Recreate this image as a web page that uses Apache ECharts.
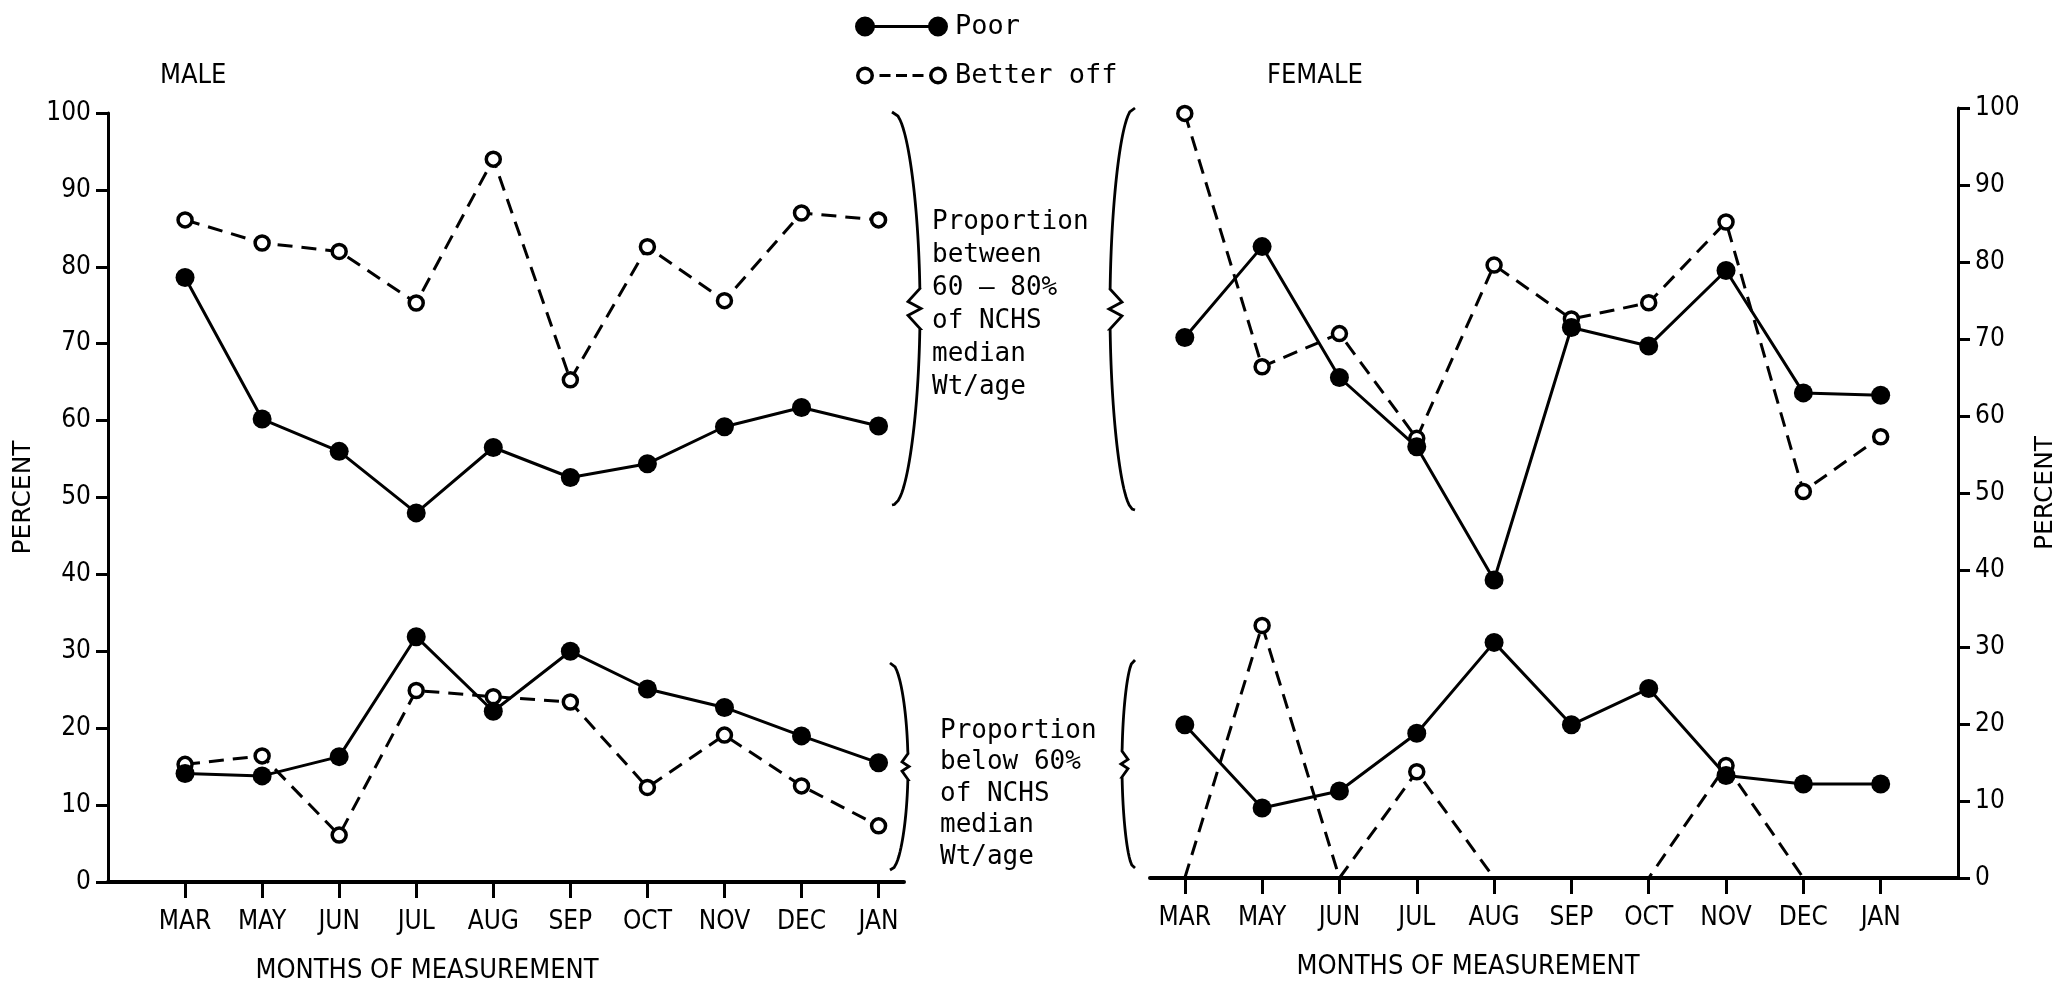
<!DOCTYPE html>
<html>
<head>
<meta charset="utf-8">
<title>Weight-for-age by month of measurement, male and female</title>
<script src="https://cdn.jsdelivr.net/npm/echarts@6/dist/echarts.min.js"></script>
<style>
html, body { margin: 0; padding: 0; background: #fff; }
#chart { width: 2058px; height: 982px; }
</style>
</head>
<body>
<div id="chart"></div>
<script>
// months of measurement (x positions are their index)
const months = ['MAR', 'MAY', 'JUN', 'JUL', 'AUG', 'SEP', 'OCT', 'NOV', 'DEC', 'JAN'];

// MALE - proportion between 60-80% of NCHS median wt/age
const malePoorMid = [78.6, 60.2, 56.0, 48.0, 56.5, 52.6, 54.4, 59.2, 61.7, 59.3];
const maleBetterMid = [86.1, 83.1, 82.0, 75.3, 94.0, 65.3, 82.6, 75.6, 87.0, 86.1];
// MALE - proportion below 60%
const malePoorLow = [14.1, 13.8, 16.3, 31.9, 22.2, 30.0, 25.1, 22.7, 19.0, 15.5];
const maleBetterLow = [15.3, 16.4, 6.1, 24.9, 24.1, 23.4, 12.3, 19.1, 12.5, 7.3];

// FEMALE - proportion between 60-80%
const femalePoorMid = [70.2, 82.0, 65.0, 56.0, 38.7, 71.5, 69.1, 78.9, 63.0, 62.7];
const femaleBetterMid = [99.3, 66.4, 70.7, 57.1, 79.6, 72.6, 74.7, 85.2, 50.2, 57.3];
// FEMALE - proportion below 60%
const femalePoorLow = [19.9, 9.1, 11.3, 18.8, 30.6, 19.9, 24.6, 13.3, 12.2, 12.2];
const femaleBetterLow = [0, 32.8, 0, 13.8, 0, 0, 0, 14.6, 0, 0];

const noteMid = ['Proportion', 'between', '60 – 80%', 'of NCHS', 'median', 'Wt/age'];
const noteLow = ['Proportion', 'below 60%', 'of NCHS', 'median', 'Wt/age'];

const narrow = '"Liberation Sans Narrow", "DejaVu Sans Condensed", "Roboto", sans-serif';
const mono = '"DejaVu Sans Mono", "Liberation Mono", monospace';
const monthIdx = months.map((m, i) => i);

// legend icons: dot-line-dot and ring-dash-ring, in a 93 x 20 box
const poorIcon = 'path://M0,10 A10,10 0 1,1 20,10 A10,10 0 1,1 0,10 Z ' +
  'M10,8.5 L83,8.5 L83,11.5 L10,11.5 Z ' +
  'M73,10 A10,10 0 1,1 93,10 A10,10 0 1,1 73,10 Z';
const ring = cx => `M${cx - 9},10 A9,9 0 1,1 ${cx + 9},10 A9,9 0 1,1 ${cx - 9},10 Z ` +
  `M${cx - 5.5},10 A5.5,5.5 0 1,0 ${cx + 5.5},10 A5.5,5.5 0 1,0 ${cx - 5.5},10 Z `;
const dash = (a, b) => `M${a},8.5 L${b},8.5 L${b},11.5 L${a},11.5 Z `;
const betterIcon = 'path://M0,0 M93,20 ' + ring(10) + dash(24.5, 35.5) + dash(41, 52) + dash(57.5, 68.5) + ring(83);

function pts(vals) {
  return vals.map((v, i) => v === 0 ? { value: [i, v], symbol: 'none' } : [i, v]);
}

function poor(data, g) {
  return {
    type: 'line', name: 'Poor', xAxisIndex: g, yAxisIndex: g, data: pts(data),
    symbol: 'circle', symbolSize: 19, z: 4, clip: false, silent: true,
    itemStyle: { color: '#000' },
    lineStyle: { color: '#000', width: 3 }
  };
}
function better(data, g) {
  return {
    type: 'line', name: 'Better off', xAxisIndex: g, yAxisIndex: g, data: pts(data),
    symbol: 'circle', symbolSize: 14, z: 3, clip: false, silent: true,
    itemStyle: { color: '#fff', borderColor: '#000', borderWidth: 3.5 },
    lineStyle: { color: '#000', width: 3, type: [15, 9] }
  };
}

function xAxis(g, min, max, shift) {
  return {
    type: 'value', gridIndex: g, min: min, max: max,
    name: 'MONTHS OF MEASUREMENT', nameLocation: 'middle', nameGap: 75,
    nameTextStyle: { fontFamily: narrow, fontSize: 27, color: '#000', padding: [0, shift, 0, 0] },
    axisLine: { onZero: false, lineStyle: { color: '#000', width: 4 } },
    axisTick: { show: true, customValues: monthIdx, length: 16, lineStyle: { color: '#000', width: 3 } },
    axisLabel: { customValues: monthIdx, formatter: v => months[v], margin: 27,
      fontFamily: narrow, fontSize: 26, color: '#000' },
    splitLine: { show: false }
  };
}
function yAxis(g, pos) {
  return {
    type: 'value', gridIndex: g, min: 0, max: 100, interval: 10, position: pos,
    name: 'PERCENT', nameLocation: 'middle', nameRotate: 90, nameGap: pos === 'left' ? 72 : 75,
    nameTextStyle: { fontFamily: '"DejaVu Sans", sans-serif', fontSize: 25, color: '#000' },
    axisLine: { show: true, onZero: false, lineStyle: { color: '#000', width: 3 } },
    axisTick: { show: true, length: 12, lineStyle: { color: '#000', width: 3 } },
    axisLabel: { margin: 17, fontFamily: narrow, fontSize: 26, color: '#000' },
    splitLine: { show: false }
  };
}

// curly brace as a polyline; dir 1 = "}", -1 = "{"
function brace(x, y1, y2, dir, w, n, a) {
  const h = y2 - y1, m = (y1 + y2) / 2;
  const X = dx => x + dir * dx;
  const pts = [];
  for (let y = y1; y <= m - a; y += 4) {
    const u = (y - y1) / (h / 2);
    pts.push([X(w * Math.pow(Math.sin(u * Math.PI / 2), 0.45)), y]);
  }
  pts.push([X(w), m - a], [X(w - n), m - a * 0.35], [X(w + 1), m], [X(w - n), m + a * 0.35], [X(w), m + a]);
  for (let y = m + a; y <= y2; y += 4) {
    const u = (y2 - y) / (h / 2);
    pts.push([X(w * Math.pow(Math.sin(u * Math.PI / 2), 0.45)), y]);
  }
  pts.push([X(0), y2]);
  return { type: 'polyline', silent: true, shape: { points: pts },
    style: { fill: null, stroke: '#000', lineWidth: 2.8 } };
}

const chart = echarts.init(document.getElementById('chart'));
chart.setOption({
  animation: false,
  backgroundColor: '#fff',
  title: [
    { text: 'MALE', left: 155, top: 57, textStyle: { fontFamily: narrow, fontSize: 27, fontWeight: 'normal', color: '#000' } },
    { text: 'FEMALE', left: 1262, top: 57, textStyle: { fontFamily: narrow, fontSize: 27, fontWeight: 'normal', color: '#000' } }
  ],
  legend: {
    orient: 'vertical', left: 850, top: 8, itemWidth: 93, itemHeight: 20, itemGap: 22,
    selectedMode: false,
    textStyle: { fontFamily: mono, fontSize: 27, color: '#000', padding: [0, 0, 0, 2] },
    data: [
      { name: 'Poor', icon: poorIcon, itemStyle: { color: '#000', borderWidth: 0 } },
      { name: 'Better off', icon: betterIcon, itemStyle: { color: '#000', borderWidth: 0 } }
    ]
  },
  grid: [
    { left: 108, top: 113, width: 796, bottom: 100, outerBoundsMode: 'none' },
    { left: 1150, top: 108, width: 808, bottom: 104, outerBoundsMode: 'none' }
  ],
  xAxis: [xAxis(0, -1, 9.33, 158), xAxis(1, -0.45, 10, 172)],
  yAxis: [yAxis(0, 'left'), yAxis(1, 'right')],
  series: [
    better(maleBetterMid, 0), poor(malePoorMid, 0),
    better(maleBetterLow, 0), poor(malePoorLow, 0),
    better(femaleBetterMid, 1), poor(femalePoorMid, 1),
    better(femaleBetterLow, 1), poor(femalePoorLow, 1)
  ],
  graphic: [
    brace(892, 112, 505, 1, 28, 12, 20),
    brace(1135, 108, 510, -1, 25, 12, 20),
    brace(890, 663, 870, 1, 18, 6, 13),
    brace(1135, 660, 868, -1, 13, 6, 13),
    { type: 'text', left: 932, top: 206, silent: true,
      style: { text: noteMid.join('\n'), fontFamily: mono, fontSize: 26, lineHeight: 33, fill: '#000' } },
    { type: 'text', left: 940, top: 715, silent: true,
      style: { text: noteLow.join('\n'), fontFamily: mono, fontSize: 26, lineHeight: 31.5, fill: '#000' } }
  ]
});
</script>
</body>
</html>
